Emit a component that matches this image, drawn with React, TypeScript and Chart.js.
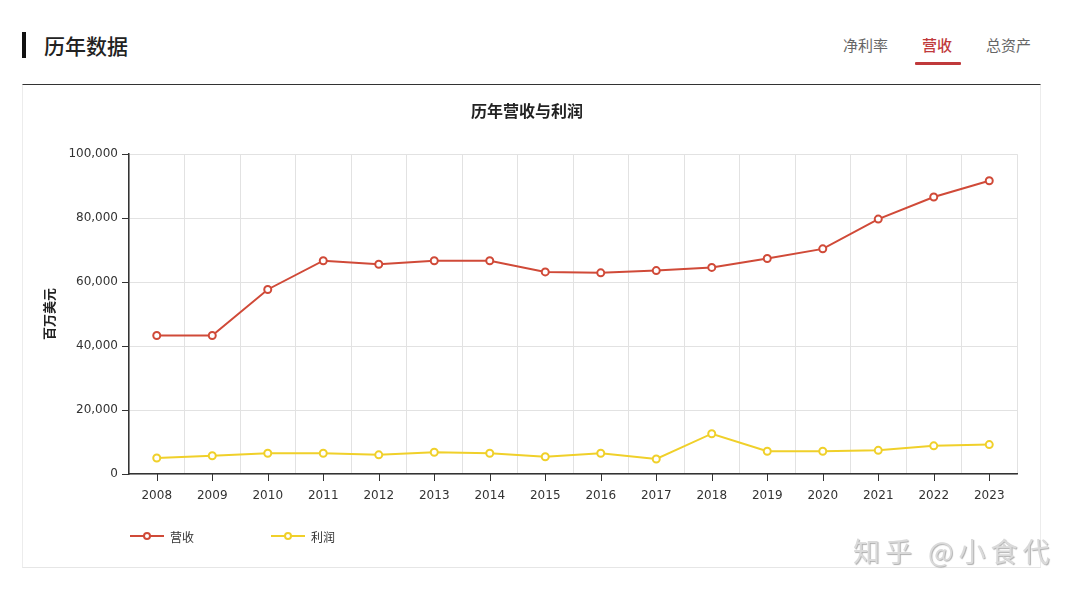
import React, { useEffect, useRef } from "react";
import { Chart, registerables } from "chart.js";
Chart.register(...registerables);

const years = ["2008", "2009", "2010", "2011", "2012", "2013", "2014", "2015", "2016", "2017", "2018", "2019", "2020", "2021", "2022", "2023"];
const revenue = [43300, 43300, 57700, 66700, 65600, 66700, 66700, 63200, 62900, 63600, 64600, 67400, 70400, 79700, 86600, 91700];
const profit = [5000, 5700, 6500, 6500, 6000, 6800, 6500, 5400, 6500, 4700, 12600, 7100, 7100, 7400, 8800, 9200];
const yMin = 0;
const yMax = 100000;
const yStep = 20000;
const seriesNames = ["营收", "利润"];
const tabs = ["净利率", "营收", "总资产"];

const RED = "#d04a38";
const YELLOW = "#f0d02a";
const CJK = '"Noto Sans CJK SC", "Noto Sans", sans-serif';
const NUM = '"DejaVu Sans", sans-serif';

const xTickMarks = {
  id: "xTickMarks",
  afterDraw(chart: any) {
    const xs = chart.scales.x;
    const ctx = chart.ctx;
    const y0 = chart.chartArea.bottom;
    ctx.save();
    ctx.strokeStyle = "#333";
    ctx.lineWidth = 1;
    years.forEach((_, i) => {
      const px = Math.round(xs.getPixelForValue(i)) + 0.5;
      ctx.beginPath();
      ctx.moveTo(px, y0);
      ctx.lineTo(px, y0 + 7);
      ctx.stroke();
    });
    ctx.restore();
  },
};

function LegendItem({ color, label, left }: { color: string; label: string; left: number }) {
  return (
    <div style={{ position: "absolute", left, top: 528, height: 16, display: "flex", alignItems: "center" }}>
      <div style={{ position: "relative", width: 34, height: 16 }}>
        <div style={{ position: "absolute", left: 0, top: 7, width: 34, height: 2, background: color }} />
        <div
          style={{
            position: "absolute",
            left: 13,
            top: 4,
            width: 4,
            height: 4,
            borderRadius: "50%",
            border: `2px solid ${color}`,
            background: "#fff",
          }}
        />
      </div>
      <span style={{ marginLeft: 6, fontFamily: CJK, fontSize: 12, color: "#333" }}>{label}</span>
    </div>
  );
}

export default function App() {
  const ref = useRef<HTMLCanvasElement | null>(null);

  useEffect(() => {
    if (!ref.current) return;
    const chart = new Chart(ref.current, {
      type: "line",
      data: {
        labels: years,
        datasets: [
          {
            label: seriesNames[0],
            data: revenue,
            borderColor: RED,
            backgroundColor: "#fff",
            borderWidth: 2,
            pointRadius: 3.5,
            pointBorderWidth: 2,
            pointBackgroundColor: "#fff",
            pointBorderColor: RED,
            tension: 0,
          },
          {
            label: seriesNames[1],
            data: profit,
            borderColor: YELLOW,
            backgroundColor: "#fff",
            borderWidth: 2,
            pointRadius: 3.5,
            pointBorderWidth: 2,
            pointBackgroundColor: "#fff",
            pointBorderColor: YELLOW,
            tension: 0,
          },
        ],
      },
      options: {
        animation: false,
        responsive: false,
        layout: { padding: { left: 15, right: 23, top: 0, bottom: 63 } },
        plugins: {
          legend: { display: false },
          tooltip: { enabled: false },
          title: {
            display: true,
            text: "历年营收与利润",
            color: "#222",
            font: { family: CJK, size: 16, weight: "bold", lineHeight: 1.2 },
            padding: { top: 15, bottom: 34 },
          },
        },
        scales: {
          x: {
            offset: true,
            grid: { offset: true, color: "#e2e2e2", drawTicks: false, lineWidth: 1 },
            border: { color: "#333", width: 1.5 },
            ticks: { color: "#333", font: { family: NUM, size: 12 }, padding: 15, maxRotation: 0, autoSkip: false },
            afterFit: (s: any) => {
              s.height = 30;
            },
          },
          y: {
            min: yMin,
            max: yMax,
            grid: { color: "#e2e2e2", tickColor: "#333", tickLength: 7, lineWidth: 1 },
            border: { color: "#333", width: 1.5 },
            ticks: {
              stepSize: yStep,
              color: "#333",
              padding: 4,
              font: { family: NUM, size: 12 },
              callback: (v: any) => Number(v).toLocaleString("en-US"),
            },
            title: {
              display: true,
              text: "百万美元",
              color: "#222",
              font: { family: CJK, size: 13, weight: "bold", lineHeight: 1.2 },
              padding: { top: 4, bottom: 4 },
            },
            afterFit: (s: any) => {
              s.width = 92;
            },
          },
        },
      },
      plugins: [xTickMarks],
    });
    return () => chart.destroy();
  }, []);

  return (
    <div style={{ position: "absolute", left: 0, top: 0, width: 1080, height: 596, background: "#fff", overflow: "hidden" }}>
      {/* header */}
      <div style={{ position: "absolute", left: 22, top: 32, width: 4, height: 26, background: "#111" }} />
      <div style={{ position: "absolute", left: 44, top: 30, fontFamily: CJK, fontSize: 21, fontWeight: 500, color: "#222", lineHeight: "30px" }}>
        历年数据
      </div>
      <div style={{ position: "absolute", left: 843, top: 33, fontFamily: CJK, fontSize: 15, color: "#666", lineHeight: "24px" }}>
        {tabs[0]}
      </div>
      <div style={{ position: "absolute", left: 922, top: 33, fontFamily: CJK, fontSize: 15, color: "#c0393b", fontWeight: 500, lineHeight: "24px" }}>
        {tabs[1]}
      </div>
      <div style={{ position: "absolute", left: 915, top: 62, width: 46, height: 3, background: "#c0393b", borderRadius: 1 }} />
      <div style={{ position: "absolute", left: 986, top: 33, fontFamily: CJK, fontSize: 15, color: "#666", lineHeight: "24px" }}>
        {tabs[2]}
      </div>
      {/* card */}
      <div
        style={{
          position: "absolute",
          left: 22,
          top: 84,
          width: 1017,
          height: 482,
          borderTop: "1.5px solid #333",
          borderLeft: "1px solid #ececec",
          borderRight: "1px solid #ececec",
          borderBottom: "1px solid #e6e6e6",
          boxSizing: "content-box",
        }}
      />
      <canvas ref={ref} width={1018} height={481} style={{ position: "absolute", left: 22, top: 86, width: 1018, height: 481 }} />
      <LegendItem color={RED} label={seriesNames[0]} left={130} />
      <LegendItem color={YELLOW} label={seriesNames[1]} left={271} />
      {/* watermark */}
      <div
        style={{
          position: "absolute",
          left: 853,
          top: 533,
          fontFamily: CJK,
          fontSize: 27,
          letterSpacing: 5,
          color: "#dadada",
          lineHeight: "36px",
          textShadow: "1px 1px 1px #b0b0b0",
          whiteSpace: "nowrap",
        }}
      >
        知乎 @小食代
      </div>
    </div>
  );
}
